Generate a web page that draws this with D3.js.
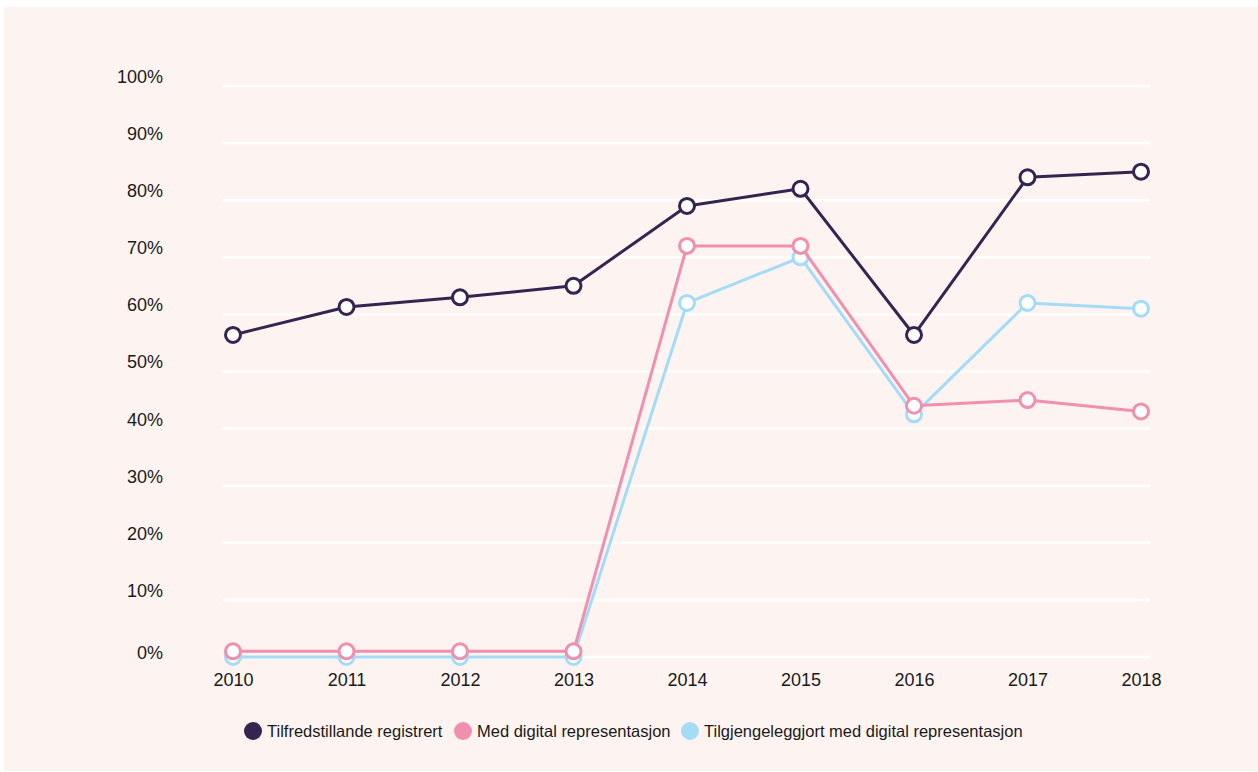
<!DOCTYPE html>
<html><head><meta charset="utf-8">
<script src="https://cdn.jsdelivr.net/npm/d3@7"></script>
<style>
html,body{margin:0;padding:0;background:#ffffff;}
svg{display:block;font-family:"Liberation Sans",Arial,sans-serif;}
</style></head>
<body>
<svg id="chart" width="1258" height="772"></svg>
<script>
const years = ["2010","2011","2012","2013","2014","2015","2016","2017","2018"];
const seriesNames = ["Tilfredstillande registrert","Med digital representasjon","Tilgjengeleggjort med digital representasjon"];
const tilfredstillande = [56.4, 61.3, 63, 65, 79, 82, 56.4, 84, 85];
const medDigital = [1, 1, 1, 1, 72, 72, 44, 45, 43];
const tilgjengeleggjort = [0, 0, 0, 0, 62, 70, 42.5, 62, 61];
const yTicks = [0,10,20,30,40,50,60,70,80,90,100];
const colors = ["#35244f","#f08fae","#a4dcf7"];

const svg = d3.select("#chart");
svg.append("rect").attr("x",4).attr("y",7).attr("width",1254).attr("height",764).attr("fill","#fdf4f1");

const x = d3.scalePoint().domain(years).range([233,1141]);
const y = d3.scaleLinear().domain([0,100]).range([657,86]);

// gridlines
const grid = svg.append("g");
grid.selectAll("line").data(yTicks).join("line")
  .attr("x1",222).attr("x2",1150)
  .attr("y1",d=>y(d)).attr("y2",d=>y(d))
  .attr("stroke","#ffffff").attr("stroke-width",2.5);

// y labels
const yAxis = d3.axisLeft(y).tickValues(yTicks).tickFormat(d=>d+"%").tickSize(0).tickPadding(0);
const ya = svg.append("g").attr("transform","translate(163,0)").call(yAxis);
ya.select(".domain").remove();
ya.selectAll("text").attr("font-size",18).attr("fill","#1a1a1a")
  .attr("font-family","'Liberation Sans',Arial,sans-serif")
  .attr("dy",d=> d===0 ? "0.1em" : "-0.2em");

// x labels
const xAxis = d3.axisBottom(x).tickSize(0).tickPadding(0);
const xa = svg.append("g").attr("transform","translate(0,673)").call(xAxis);
xa.select(".domain").remove();
xa.selectAll("text").attr("font-size",18).attr("fill","#1a1a1a")
  .attr("font-family","'Liberation Sans',Arial,sans-serif");

const data = [tilgjengeleggjort, medDigital, tilfredstillande];
const cols = [colors[2], colors[1], colors[0]];
const line = d3.line().x((d,i)=>x(years[i])).y(d=>y(d));

data.forEach((vals,k)=>{
  const g = svg.append("g");
  g.append("path").datum(vals).attr("d",line).attr("fill","none")
    .attr("stroke",cols[k]).attr("stroke-width",3).attr("stroke-linejoin","round");
  g.selectAll("circle").data(vals).join("circle")
    .attr("cx",(d,i)=>x(years[i])).attr("cy",d=>y(d)).attr("r",7.5)
    .attr("fill","#ffffff").attr("stroke",cols[k]).attr("stroke-width",3);
});

// legend
const legX = [253, 463, 690];
const leg = svg.append("g");
seriesNames.forEach((name,i)=>{
  leg.append("circle").attr("cx",legX[i]).attr("cy",731).attr("r",9).attr("fill",colors[i]);
  leg.append("text").attr("x",legX[i]+14).attr("y",731).attr("dy","0.35em")
    .attr("font-size",16.5).attr("fill","#1a1a1a").text(name);
});
</script>
</body></html>
